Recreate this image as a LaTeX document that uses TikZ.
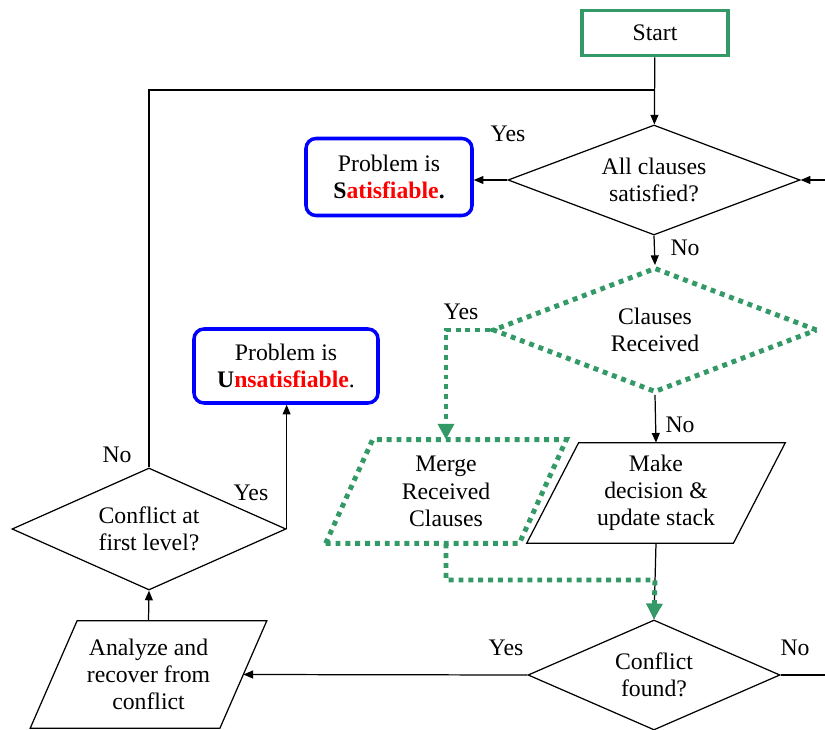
\documentclass[tikz,border=0pt]{standalone}
\usepackage{fontspec}
\setmainfont{Liberation Serif}
\usepackage{tikz}
\usetikzlibrary{positioning, arrows.meta, shapes.geometric}
\definecolor{flowgreen}{RGB}{51,153,102}
% parallelogram frame around a rectangular node: style, node, half slant
\newcommand{\slantframe}[3]{\draw[#1] ([xshift=-#3]#2.south west) -- ([xshift=#3]#2.north west)
  -- ([xshift=#3]#2.north east) -- ([xshift=-#3]#2.south east) -- cycle;}

\begin{document}
\begin{tikzpicture}[x=0.2mm, y=-0.2mm,
  every node/.style={font=\fontsize{13.5}{15.5}\selectfont, align=center},
  line/.style={line width=0.7pt},
  flow/.style={line, -{Triangle[length=5.5pt, width=4.5pt]}},
  dotline/.style={draw=flowgreen, line width=2.8pt, dash pattern=on 2.8pt off 2.8pt},
  dotflow/.style={dotline, -{Triangle[length=9pt, width=9pt]}},
  decision/.style={diamond, draw, line, inner sep=0pt, aspect=2.5},
  iobox/.style={rectangle, inner sep=0pt},
  startbox/.style={rectangle, draw=flowgreen, line width=2pt},
  resultbox/.style={rectangle, rounded corners=2mm, draw=blue, line width=2pt}]
\useasboundingbox (0,0) rectangle (825,730);

\node[startbox, minimum width=29.2mm, minimum height=9mm] at (655,33) (start) {Start};
\node[decision, minimum width=58.4mm, minimum height=22mm] at (654,180) (allsat) {All clauses\\satisfied?};
\node[resultbox, minimum width=33.2mm, minimum height=15.4mm] at (389,177) (sat) {Problem is\\\textbf{S\textcolor{red}{atisfiable}.}};
\node[decision, dotline, minimum width=65mm, minimum height=25mm] at (655,330) (recv) {Clauses\\Received};
\node[resultbox, minimum width=36.8mm, minimum height=14.8mm] at (286,366) (unsat) {Problem is\\\textbf{U\textcolor{red}{nsatisfiable}}.};
\node[iobox, minimum width=38.6mm, minimum height=20.6mm] at (446,491.5) (merge) {Merge\\Received\\Clauses};
\node[iobox, minimum width=41.2mm, minimum height=20mm] at (656,493) (decide) {Make\\decision \&\\update stack};
\node[decision, minimum width=50.4mm, minimum height=22mm] at (654,675) (found) {Conflict\\found?};
\node[iobox, minimum width=37.8mm, minimum height=21.4mm] at (148.5,674.5) (analyze) {Analyze and\\recover from\\conflict};
\node[decision, minimum width=54.8mm, minimum height=24.4mm] at (149,529) (firstlvl) {Conflict at\\first level?};

\slantframe{dotline}{merge}{4.7mm}
\slantframe{line}{decide}{5.2mm}
\slantframe{line}{analyze}{4.7mm}

% branch labels
\node at (508,134) (yessat) {Yes};
\node at (685,248) (noall) {No};
\node at (461,312) (yesrecv) {Yes};
\node at (680,425) (norecv) {No};
\node at (506,648) (yesfound) {Yes};
\node at (795,648) (nofound) {No};
\node at (251,493) (yesfirst) {Yes};
\node at (117,455) (nofirst) {No};

\coordinate (loop) at (655,90);
\coordinate (inright) at (825,180);
\coordinate (outright) at (825,675);
\coordinate (mergejoin) at (655,580);

\draw[flow] (start) -- (allsat);
\draw[line] (firstlvl.north) |- (loop);
\draw[flow] (inright) -- (allsat.east);
\draw[flow] (allsat.west) -- (allsat.west -| sat.east);
\draw[flow] (allsat.south) -- (recv.north);
\draw[flow] (recv.south) -- (decide.north);
\draw[flow] (decide.south) -- (found.north);
\draw[dotflow] (recv.west) -| (merge.north);
\draw[dotflow] (merge.south) |- (mergejoin) -- (found.north);
\draw[flow] (found.west) -- (analyze.east);
\draw[line] (found.east) -- (outright);
\draw[flow] (analyze.north) -- (firstlvl.south);
\draw[flow] (firstlvl.east) -- (firstlvl.east |- unsat.south);
\end{tikzpicture}
\end{document}
